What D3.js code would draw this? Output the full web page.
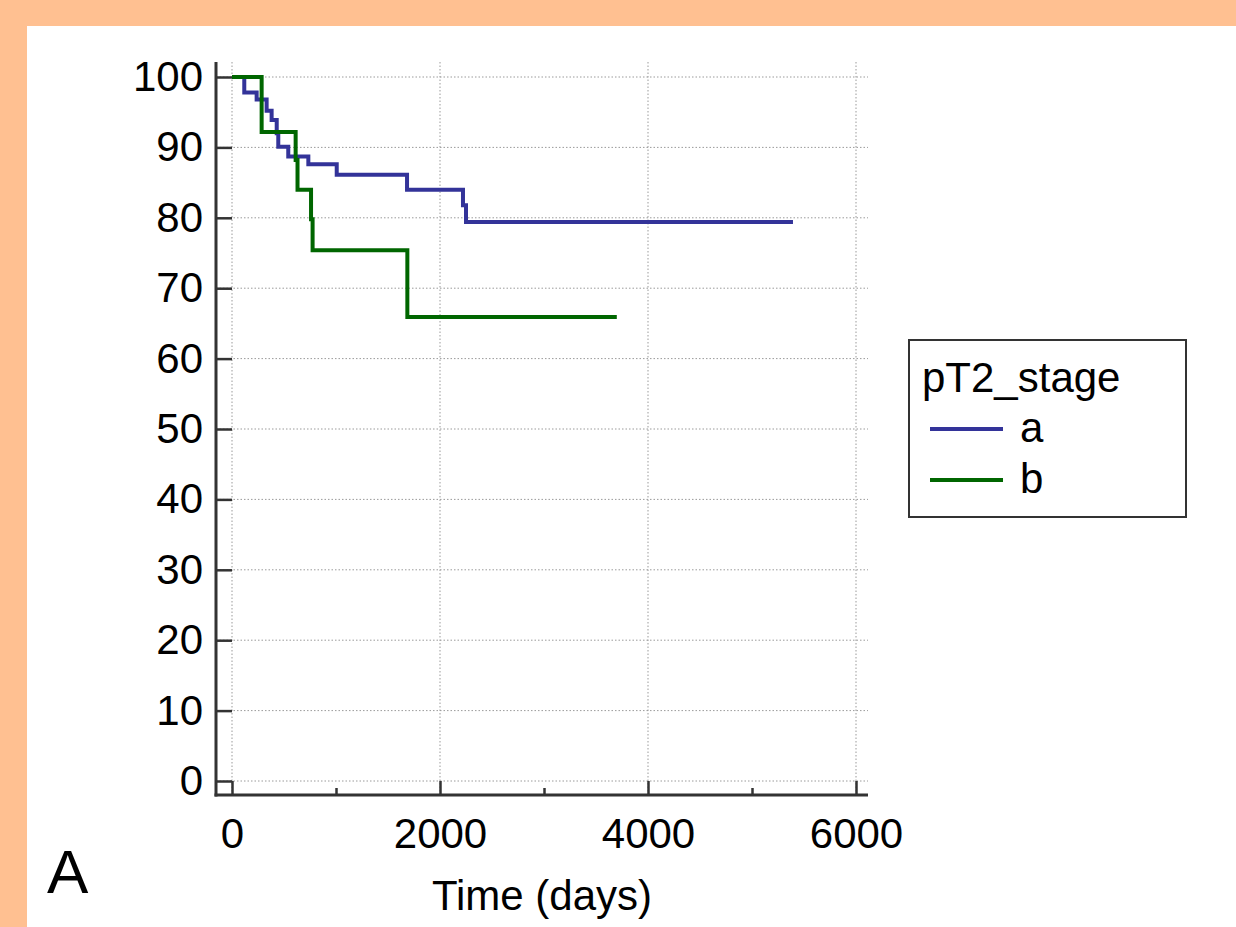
<!DOCTYPE html>
<html>
<head>
<meta charset="utf-8">
<script src="https://cdn.jsdelivr.net/npm/d3@7"></script>
<style>
  html, body { margin: 0; padding: 0; background: #FFC091; }
  svg { display: block; }
  text { font-family: "Liberation Sans", Arial, sans-serif; fill: #000; }
</style>
</head>
<body>
<svg id="chart" width="1236" height="927"></svg>
<script>
// ---- data ----
const seriesNames = ["a", "b"];
const seriesColors = ["#333399", "#006600"];
// Kaplan–Meier steps: time (days) and survival (%) after the step
const timesA = [0, 118, 237, 333, 381, 430, 445, 541, 734, 1007, 1683, 2221, 2250, 5394];
const survA  = [100, 97.8, 96.8, 95.2, 93.9, 92.0, 90.1, 88.7, 87.6, 86.1, 84.0, 81.8, 79.4, 79.4];
const timesB = [0, 285, 612, 630, 760, 775, 1686, 3700];
const survB  = [100, 92.2, 88.2, 84.0, 79.8, 75.4, 65.9, 65.9];
const xMajorTicks = [0, 2000, 4000, 6000];
const xMinorTicks = [1000, 3000, 5000];
const yTicks = [0, 10, 20, 30, 40, 50, 60, 70, 80, 90, 100];
const xLabel = "Time (days)";
const legendTitle = "pT2_stage";
const panelLabel = "A";

// ---- layout ----
const svg = d3.select("#chart");
svg.append("rect").attr("x", 27).attr("y", 26).attr("width", 1236 - 27).attr("height", 927 - 26).attr("fill", "#fff");

const x = d3.scaleLinear().domain([0, 6000]).range([232, 856]);
const y = d3.scaleLinear().domain([0, 100]).range([781, 77]);
const axisX = 216, axisY = 795, plotTop = 62, plotRight = 868;
const fs = 42;
const lw = 4;

// grid
const grid = svg.append("g");
grid.selectAll("line.gx").data(xMajorTicks).join("line")
  .attr("x1", d => x(d)).attr("x2", d => x(d)).attr("y1", plotTop).attr("y2", axisY)
  .attr("stroke", "#9a9a9a").attr("stroke-width", 1).attr("stroke-dasharray", "1.5,2");
grid.selectAll("line.gy").data(yTicks).join("line")
  .attr("x1", axisX).attr("x2", plotRight).attr("y1", d => y(d)).attr("y2", d => y(d))
  .attr("stroke", "#9a9a9a").attr("stroke-width", 1).attr("stroke-dasharray", "1.5,2");

// y axis
const gy = svg.append("g").attr("transform", `translate(${axisX},0)`)
  .call(d3.axisLeft(y).tickValues(yTicks).tickSize(-16).tickPadding(13));
gy.select(".domain").remove();
gy.selectAll(".tick line").attr("stroke", "#333").attr("stroke-width", 2.5);
gy.selectAll(".tick text").attr("font-size", fs).attr("font-family", "Liberation Sans, Arial, sans-serif").attr("fill", "#000");
svg.append("line").attr("x1", axisX).attr("x2", axisX).attr("y1", plotTop).attr("y2", axisY + 1.5)
  .attr("stroke", "#333").attr("stroke-width", 3);

// x axis
const gx = svg.append("g").attr("transform", `translate(0,${axisY})`)
  .call(d3.axisBottom(x).tickValues(xMajorTicks).tickSize(-14).tickPadding(23).tickFormat(d3.format("d")));
gx.select(".domain").remove();
gx.selectAll(".tick line").attr("stroke", "#333").attr("stroke-width", 2.5);
gx.selectAll(".tick text").attr("font-size", fs).attr("font-family", "Liberation Sans, Arial, sans-serif").attr("fill", "#000");
const gxm = svg.append("g").attr("transform", `translate(0,${axisY})`)
  .call(d3.axisBottom(x).tickValues(xMinorTicks).tickSize(-7).tickFormat(""));
gxm.select(".domain").remove();
gxm.selectAll(".tick line").attr("stroke", "#333").attr("stroke-width", 2.5);
svg.append("line").attr("x1", axisX - 1.5).attr("x2", plotRight).attr("y1", axisY).attr("y2", axisY)
  .attr("stroke", "#333").attr("stroke-width", 3);

// x label
svg.append("text").attr("x", 542).attr("y", 910).attr("text-anchor", "middle")
  .attr("font-size", fs).text(xLabel);

// curves
const series = [
  { name: seriesNames[0], color: seriesColors[0], pts: timesA.map((t, i) => [t, survA[i]]) },
  { name: seriesNames[1], color: seriesColors[1], pts: timesB.map((t, i) => [t, survB[i]]) }
];
const line = d3.line().x(d => x(d[0])).y(d => y(d[1])).curve(d3.curveStepAfter);
svg.append("g").selectAll("path").data(series).join("path")
  .attr("d", d => line(d.pts)).attr("fill", "none").attr("stroke", d => d.color)
  .attr("stroke-width", lw).attr("stroke-linejoin", "miter");

// legend
const lg = svg.append("g");
lg.append("rect").attr("x", 909).attr("y", 340).attr("width", 277).attr("height", 177)
  .attr("fill", "#fff").attr("stroke", "#333").attr("stroke-width", 2);
lg.append("text").attr("x", 922).attr("y", 392).attr("font-size", fs).text(legendTitle);
series.forEach((s, i) => {
  const yy = 429 + i * 51;
  lg.append("line").attr("x1", 930).attr("x2", 1003).attr("y1", yy).attr("y2", yy)
    .attr("stroke", s.color).attr("stroke-width", lw);
  lg.append("text").attr("x", 1020).attr("y", yy + 13).attr("font-size", fs).text(s.name);
});

// panel label
svg.append("text").attr("x", 47).attr("y", 893).attr("font-size", 62).text(panelLabel);
</script>
</body>
</html>
